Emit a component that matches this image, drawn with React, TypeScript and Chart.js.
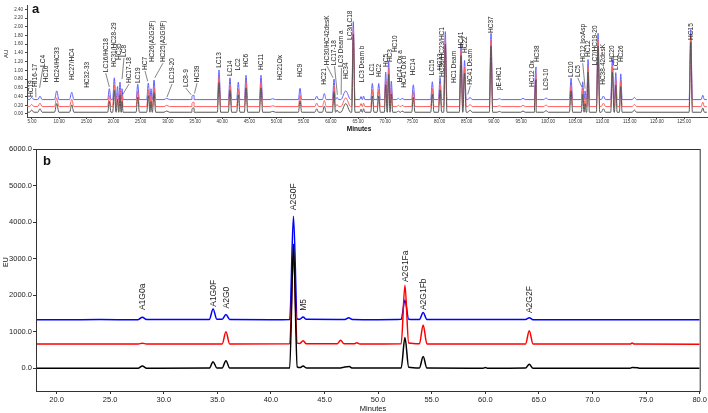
import React, { useEffect, useRef } from 'react';
import { Chart, registerables } from 'chart.js';
Chart.register(...registerables);

// ---------- Panel a (UV chromatograms, AU vs minutes) ----------
const xTicksA = [5,10,15,20,25,30,35,40,45,50,55,60,65,70,75,80,85,90,95,100,105,110,115,120,125];
const yTicksA = [0,0.2,0.4,0.6,0.8,1.0,1.2,1.4,1.6,1.8,2.0,2.2,2.4];
const baselineBlueA = 0.33;
const baselineRedA = 0.17;
const baselineBlackA = 0.04;
const runStartA = 4.1;
const runEndA = 129.2;
const peakTimesA = [4.94,6.47,9.55,12.31,19.23,20.15,20.74,21.2,21.57,24.46,26.41,26.9,27.46,29.79,34.45,34.82,39.42,41.44,42.97,44.39,47.15,49.3,54.33,57.4,58.8,60.59,61.14,62.74,64.14,65.56,66.02,67.64,68.81,70.1,70.65,71.13,72.46,73.1,75.18,78.68,80.1,81.07,83.96,84.61,85.62,89.48,91.01,95.37,97.49,97.77,99.61,104.21,106.36,106.79,107.34,109.18,110.16,111.81,112.44,113.36,115.86,126.24,128.45];
const peakHeightsA = [0.05,0.08,0.2,0.17,0.25,0.5,0.3,0.4,0.25,0.35,0.38,0.25,0.45,0.03,0.08,0.1,0.68,0.5,0.4,0.56,0.56,0.02,0.26,0.08,0.14,0.47,0.05,0.2,1.79,0.07,0.08,0.37,0.37,0.63,0.87,0.42,0.03,0.03,0.34,0.41,0.51,1.56,1.3,0.9,0.05,1.52,0.02,0.03,0.1,0.75,0.04,0.49,0.41,0.2,0.92,1.52,0.08,0.92,0.62,0.59,0.05,1.61,0.1];
const peakHalfWidthsA = [0.4,0.4,0.4,0.4,0.3,0.3,0.25,0.25,0.2,0.3,0.3,0.2,0.3,0.5,0.4,0.4,0.3,0.3,0.3,0.3,0.3,0.5,0.3,0.35,0.35,0.3,0.3,0.9,0.3,0.25,0.25,0.3,0.3,0.25,0.25,0.25,0.4,0.4,0.3,0.3,0.3,0.3,0.3,0.3,0.4,0.3,0.4,0.4,0.3,0.3,0.4,0.3,0.25,0.2,0.25,0.3,0.4,0.3,0.25,0.25,0.4,0.3,0.3];
// [text, time, AU at text foot, leader target time, leader target AU]
const peakLabelsA: [string, number, number, number?, number?][] = [
  ['HC19',4.82,0.39],['HI16-17',5.68,0.62,5.72,0.38],['LC4',7.0,1.08,6.4,0.6],['HC16',7.6,0.73],
  ['HC24/HC33',9.55,0.73],['HC27/HC4',12.36,0.78],['HC32-33',15.12,0.6],['LC16/HC18',18.57,0.96,19.23,0.62],
  ['HC31/HC28-29',20.04,1.08],['HC35',20.96,1.24],['LC8',21.93,1.31,21.57,0.8],['HC17-18',22.85,0.71,21.7,0.45],
  ['LC19',24.46,0.71],['HC7',25.8,1.01,26.3,0.75],['HC26(A2G2F)',27.09,1.19],['HC25(A2G0F)',29.11,1.19,27.6,0.83],
  ['LC19-20',30.77,0.71,29.85,0.39],['LC8-9',33.29,0.62,34.3,0.44],['HC39',35.37,0.73,34.9,0.47],
  ['LC13',39.42,1.06],['LC14',41.44,0.87],['LC2',42.97,1.0],['HC6',44.39,1.08],['HC11',47.15,1.01],
  ['HC21Ox',50.65,0.78],['HC9',54.33,0.85],['HC21',58.8,0.67],['HC30/HC42desK',59.3,1.12,60.41,0.83],
  ['LC17-18',60.68,1.12,61.2,0.44],['LC3 Deam a',61.95,1.08,61.9,0.44],['HC34',62.79,0.8],['LC3/LC18',63.62,1.7],
  ['LC3 Deam b',65.8,0.73],['LC1',67.64,0.89],['HC2',68.81,0.85],['HC5',70.1,1.08],['HC3',70.89,1.19],
  ['HC10',71.91,1.42],['HC41 Ox a',72.79,0.73],['HC41 Ox b',73.53,0.6],['HC14',75.18,0.89],['LC15',78.68,0.89],
  ['HC13',80.1,1.01],['HC36/HC23/HC1',80.56,0.85],['HC1 Deam',82.64,0.71],['HC41',83.96,1.51],['HC22',84.8,1.4],
  ['HC41 Deam',85.67,0.67,85.2,0.45],['HC37',89.48,1.86],['pE-HC1',91.01,0.55],['HC12 Ox',97.08,0.62],
  ['HC38',98.0,1.19],['LC9-10',99.61,0.55],['LC10',104.15,0.85],['LC5',105.44,0.85,106.2,0.62],
  ['HC12 IsoAsp',106.36,1.19,106.8,0.58],['HC12',107.28,1.31],['LC7/HC19-20',108.63,1.12],['HC38-42desK',110.16,0.67],
  ['HC20',111.81,1.19],['LC11',112.55,1.01],['HC26',113.47,1.19],['HC15',126.24,1.7]
];

// ---------- Panel b (FLR glycan profiles, EU vs minutes) ----------
const xTicksB = [20,25,30,35,40,45,50,55,60,65,70,75,80];
const yTicksB = [0,1000,2000,3000,4000,5000,6000];
const blueB: [number, number][] = [[18.08,1330],[20.5,1328],[24,1332],[27.6,1330],[28,1400],[28.4,1332],[32,1335],[34.25,1335],[34.6,1620],[34.95,1345],[35.45,1340],[35.8,1475],[36.15,1335],[40,1330],[41.75,1335],[42.1,4160],[42.45,1350],[42.7,1345],[43,1405],[43.3,1340],[46.9,1335],[47.25,1385],[47.6,1335],[50,1330],[52.15,1340],[52.5,1870],[52.85,1345],[53.85,1335],[54.2,1525],[54.55,1335],[60,1338],[63.75,1335],[64.1,1385],[64.45,1330],[70,1330],[80,1330]];
const redB: [number, number][] = [[18.08,664],[27.6,664],[28,685],[28.4,664],[35.45,668],[35.8,1000],[36.15,668],[41.75,670],[42.1,3100],[42.45,690],[42.7,680],[43,755],[43.3,670],[46.2,672],[46.5,770],[46.8,672],[47.8,672],[48,700],[48.3,664],[52.15,670],[52.5,2275],[52.85,690],[53.85,670],[54.2,1185],[54.55,668],[63.75,668],[64.1,1030],[64.45,664],[73.5,664],[73.7,690],[73.9,664],[80,660]];
const blackB: [number, number][] = [[18.08,0],[27.6,0],[28,60],[28.4,0],[34.25,5],[34.6,180],[34.95,10],[35.45,10],[35.8,210],[36.15,5],[41.75,10],[42.1,3400],[42.45,40],[42.7,20],[43,60],[43.3,10],[46.5,10],[46.8,30],[47.3,50],[47.6,5],[52.15,10],[52.5,840],[52.85,30],[53.85,10],[54.2,320],[54.55,5],[59.8,0],[60,20],[60.2,0],[63.75,5],[64.1,110],[64.45,0],[73.5,0],[73.7,20],[74.2,15],[74.4,0],[80,0]];
const peakLabelsB: [string, number, number][] = [
  ['A1G0a',28.06,1593],['A1G0F',34.63,1683],['A2G0',35.9,1639],['A2G0F',42.16,4325],['M5',43.09,1574],
  ['A2G1Fa',52.55,2358],['A2G1Fb',54.25,1593],['A2G2F',64.17,1511]
];

const FONT = '"Liberation Sans", Arial, Helvetica, sans-serif';

function tracePoints(base: number) {
  const pts: { x: number; y: number }[] = [{ x: runStartA, y: base }];
  peakTimesA.forEach((t, i) => {
    const w = peakHalfWidthsA[i];
    pts.push({ x: t - w, y: base }, { x: t, y: base + peakHeightsA[i] }, { x: t + w, y: base });
  });
  pts.push({ x: runEndA, y: base });
  pts.sort((a, b) => a.x - b.x);
  return pts;
}

function drawVText(ctx: CanvasRenderingContext2D, text: string, x: number, y: number) {
  ctx.save();
  ctx.translate(x, y);
  ctx.rotate(-Math.PI / 2);
  ctx.textAlign = 'left';
  ctx.textBaseline = 'middle';
  ctx.fillText(text, 0, 0);
  ctx.restore();
}

const pluginA = {
  id: 'annA',
  afterDraw(chart: any) {
    const { ctx, scales } = chart;
    const x = scales.x, y = scales.y;
    ctx.save();
    ctx.fillStyle = '#222';
    ctx.strokeStyle = '#333';
    ctx.lineWidth = 0.6;
    ctx.font = `6.5px ${FONT}`;
    peakLabelsA.forEach(([text, t, v, tt, tv]) => {
      const px = x.getPixelForValue(t), py = y.getPixelForValue(v);
      if (tt !== undefined && tv !== undefined) {
        ctx.beginPath();
        ctx.moveTo(px, py + 1);
        ctx.lineTo(x.getPixelForValue(tt), y.getPixelForValue(tv));
        ctx.stroke();
      }
      drawVText(ctx, text, px, py);
    });
    ctx.fillStyle = '#111';
    ctx.font = `bold 13px ${FONT}`;
    ctx.textAlign = 'left';
    ctx.textBaseline = 'alphabetic';
    ctx.fillText('a', 32, 13);
    ctx.font = `6px ${FONT}`;
    drawVText(ctx, 'AU', 6, 58);
    ctx.font = `bold 6.5px ${FONT}`;
    ctx.textAlign = 'center';
    ctx.textBaseline = 'middle';
    ctx.fillText('Minutes', 359, 129);
    ctx.restore();
  }
};

const pluginB = {
  id: 'annB',
  afterDraw(chart: any) {
    const { ctx, scales, chartArea } = chart;
    const x = scales.x, y = scales.y;
    ctx.save();
    ctx.strokeStyle = '#333';
    ctx.lineWidth = 1;
    ctx.strokeRect(chartArea.left + 0.5, chartArea.top + 0.5, chartArea.right - chartArea.left, chartArea.bottom - chartArea.top);
    ctx.fillStyle = '#222';
    ctx.font = `8.5px ${FONT}`;
    peakLabelsB.forEach(([text, t, v]) => {
      drawVText(ctx, text, x.getPixelForValue(t), y.getPixelForValue(v));
    });
    ctx.fillStyle = '#111';
    ctx.font = `bold 13px ${FONT}`;
    ctx.textAlign = 'left';
    ctx.textBaseline = 'alphabetic';
    ctx.fillText('b', 43, 25);
    ctx.font = `7px ${FONT}`;
    drawVText(ctx, 'EU', 6, 127);
    ctx.font = `7.5px ${FONT}`;
    ctx.textAlign = 'center';
    ctx.textBaseline = 'middle';
    ctx.fillText('Minutes', 373, 269);
    ctx.restore();
  }
};

export default function App() {
  const refA = useRef<HTMLCanvasElement>(null);
  const refB = useRef<HTMLCanvasElement>(null);

  useEffect(() => {
    const lineDs = (label: string, data: any, color: string, width: number) => ({
      label, data, borderColor: color, borderWidth: width, pointRadius: 0, fill: false,
      cubicInterpolationMode: 'monotone' as const,
    });
    const chartA = new Chart(refA.current!, {
      type: 'line',
      data: {
        datasets: [
          lineDs('black', tracePoints(baselineBlackA), 'rgb(85,85,85)', 1),
          lineDs('red', tracePoints(baselineRedA), 'rgb(255,95,95)', 1),
          lineDs('blue', tracePoints(baselineBlueA), 'rgb(95,95,255)', 1),
        ],
      },
      options: {
        responsive: false,
        animation: false,
        events: [],
        layout: { padding: { top: 5, right: 1, left: 0, bottom: 0 } },
        plugins: { legend: { display: false }, tooltip: { enabled: false } },
        scales: {
          x: {
            type: 'linear', min: 4.08, max: 129.23,
            afterBuildTicks: (s: any) => { s.ticks = xTicksA.map(v => ({ value: v })); },
            afterFit: (s: any) => { s.height = 23; },
            ticks: { autoSkip: false, maxRotation: 0, padding: 0, color: '#333', font: { size: 4.5, family: FONT }, callback: (v: any) => Number(v).toFixed(2) },
            grid: { drawOnChartArea: false, drawTicks: true, tickLength: 2, color: '#444' },
            border: { display: true, color: '#444', width: 1 },
          },
          y: {
            type: 'linear', min: -0.069, max: 2.5,
            afterBuildTicks: (s: any) => { s.ticks = yTicksA.map(v => ({ value: v })); },
            afterFit: (s: any) => { s.width = 27; },
            ticks: { autoSkip: false, padding: 2, color: '#333', font: { size: 4.5, family: FONT }, callback: (v: any) => Number(v).toFixed(2) },
            grid: { drawOnChartArea: false, drawTicks: true, tickLength: 2, color: '#444' },
            border: { display: true, color: '#444', width: 1 },
          },
        },
      },
      plugins: [pluginA],
    } as any);

    const toPts = (arr: [number, number][]) => arr.map(([x, y]) => ({ x, y }));
    const chartB = new Chart(refB.current!, {
      type: 'line',
      data: {
        datasets: [
          lineDs('black', toPts(blackB), '#000000', 1.5),
          lineDs('red', toPts(redB), '#ff0000', 1.5),
          lineDs('blue', toPts(blueB), '#0000ff', 1.5),
        ],
      },
      options: {
        responsive: false,
        animation: false,
        events: [],
        layout: { padding: { top: 9, right: 6, left: 0, bottom: 0 } },
        plugins: { legend: { display: false }, tooltip: { enabled: false } },
        scales: {
          x: {
            type: 'linear', min: 18.08, max: 80,
            afterBuildTicks: (s: any) => { s.ticks = xTicksB.map(v => ({ value: v })); },
            afterFit: (s: any) => { s.height = 22; },
            ticks: { autoSkip: false, maxRotation: 0, padding: 1, color: '#222', font: { size: 7.5, family: FONT }, callback: (v: any) => Number(v).toFixed(1) },
            grid: { drawOnChartArea: false, drawTicks: true, tickLength: 3, color: '#333' },
            border: { display: true, color: '#333', width: 1 },
          },
          y: {
            type: 'linear', min: -621, max: 6000,
            afterBuildTicks: (s: any) => { s.ticks = yTicksB.map(v => ({ value: v })); },
            afterFit: (s: any) => { s.width = 36; },
            ticks: { autoSkip: false, padding: 1, color: '#222', font: { size: 7.5, family: FONT }, callback: (v: any) => Number(v).toFixed(1) },
            grid: { drawOnChartArea: false, drawTicks: true, tickLength: 3, color: '#333' },
            border: { display: true, color: '#333', width: 1 },
          },
        },
      },
      plugins: [pluginB],
    } as any);

    return () => { chartA.destroy(); chartB.destroy(); };
  }, []);

  return (
    <div style={{ position: 'absolute', left: 0, top: 0, width: 708, height: 413, background: '#fff' }}>
      <canvas ref={refA} width={708} height={140} style={{ position: 'absolute', left: 0, top: 0, width: 708, height: 140 }} />
      <canvas ref={refB} width={708} height={273} style={{ position: 'absolute', left: 0, top: 140, width: 708, height: 273 }} />
    </div>
  );
}
